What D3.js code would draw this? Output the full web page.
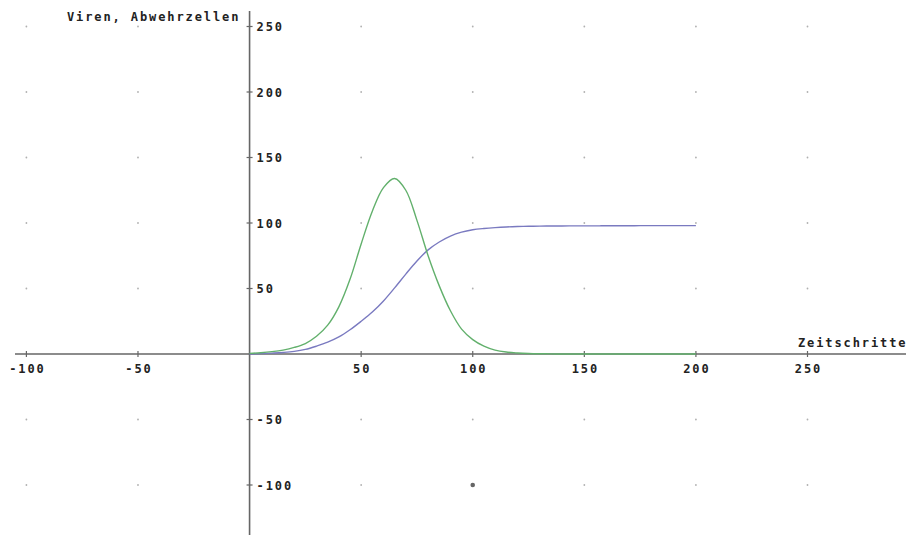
<!DOCTYPE html>
<html>
<head>
<meta charset="utf-8">
<script src="https://cdn.jsdelivr.net/npm/d3@7"></script>
<style>
  html, body { margin: 0; padding: 0; background: #fff; }
  svg { display: block; }
  text { font-family: "DejaVu Sans Mono", "Liberation Mono", monospace; font-weight: bold; font-size: 12px; letter-spacing: 1.9px; fill: #222; }
</style>
</head>
<body>
<script>
// ---- data ----
const timeSteps = [0,5,10,15,20,25,30,35,40,45,50,55,60,65,70,75,80,85,90,95,100,105,110,115,120,125,130,135,140,145,150,155,160,165,170,175,180,185,190,195,200];
const viren = [0.5,1,1.8,3,5,8,13.5,22,36,57,84,109,127,134,125,102,75,52,33,19,11,6,3,1.5,0.8,0.4,0.2,0.1,0,0,0,0,0,0,0,0,0,0,0,0,0];
const abwehrzellen = [0,0.3,0.7,1.2,2,3.5,6,9,13,18.5,25,32,40.5,50.5,61,71,79.5,85.5,90,93,94.8,95.8,96.5,97,97.3,97.5,97.6,97.7,97.7,97.8,97.8,97.8,97.9,97.9,97.9,98,98,98,98,98,98];
const xTicks = [-100,-50,50,100,150,200,250];
const yTicks = [-100,-50,50,100,150,200,250];
const gridX = [-100,-50,50,100,150,200,250];
const gridY = [-100,-50,50,100,150,200,250];
const markedPoints = [[100,-100]];
const xTitle = "Zeitschritte";
const yTitle = "Viren, Abwehrzellen";

const W = 912, H = 540;
const svg = d3.select("body").append("svg").attr("width", W).attr("height", H);

const x = d3.scaleLinear().domain([-100, 250]).range([26.4, 807.5]);
const y = d3.scaleLinear().domain([-100, 250]).range([485, 26.5]);

// grid dots
const dots = [];
gridX.forEach(gx => gridY.forEach(gy => dots.push([gx, gy])));
svg.append("g").selectAll("circle").data(dots).join("circle")
  .attr("cx", d => x(d[0])).attr("cy", d => y(d[1])).attr("r", 0.9)
  .attr("fill", "#b0b0b0");

// axes lines
const axisColor = "#666";
svg.append("line").attr("x1", 15).attr("x2", 906).attr("y1", y(0)).attr("y2", y(0))
  .attr("stroke", axisColor).attr("stroke-width", 1.6);
svg.append("line").attr("x1", x(0)).attr("x2", x(0)).attr("y1", 11).attr("y2", 535)
  .attr("stroke", axisColor).attr("stroke-width", 1.6);

// ticks
svg.append("g").selectAll("line").data(xTicks).join("line")
  .attr("x1", d => x(d)).attr("x2", d => x(d))
  .attr("y1", y(0) - 3).attr("y2", y(0) + 3)
  .attr("stroke", axisColor).attr("stroke-width", 1.2);
svg.append("g").selectAll("line").data(yTicks).join("line")
  .attr("x1", x(0) - 3).attr("x2", x(0) + 3)
  .attr("y1", d => y(d)).attr("y2", d => y(d))
  .attr("stroke", axisColor).attr("stroke-width", 1.2);

// tick labels
svg.append("g").selectAll("text").data(xTicks).join("text")
  .attr("x", d => x(d) + 1).attr("y", y(0) + 19)
  .attr("text-anchor", "middle").text(d => d);
svg.append("g").selectAll("text").data(yTicks).join("text")
  .attr("x", x(0) + 7).attr("y", d => y(d) + 4.5)
  .attr("text-anchor", "start").text(d => d);

// titles
svg.append("text").attr("x", 67).attr("y", 20.5).text(yTitle);
svg.append("text").attr("x", 798).attr("y", 347).text(xTitle);

// curves
const line = (vals) => d3.line()
  .x((d, i) => x(timeSteps[i]))
  .y(d => y(d))
  .curve(d3.curveCatmullRom.alpha(0.5))(vals);

svg.append("path").attr("d", line(abwehrzellen))
  .attr("fill", "none").attr("stroke", "#7a7ac0").attr("stroke-width", 1.4);
svg.append("path").attr("d", line(viren))
  .attr("fill", "none").attr("stroke", "#62b06c").attr("stroke-width", 1.4);

// marked point
svg.append("g").selectAll("circle").data(markedPoints).join("circle")
  .attr("cx", d => x(d[0])).attr("cy", d => y(d[1])).attr("r", 2.3)
  .attr("fill", "#666");
</script>
</body>
</html>
